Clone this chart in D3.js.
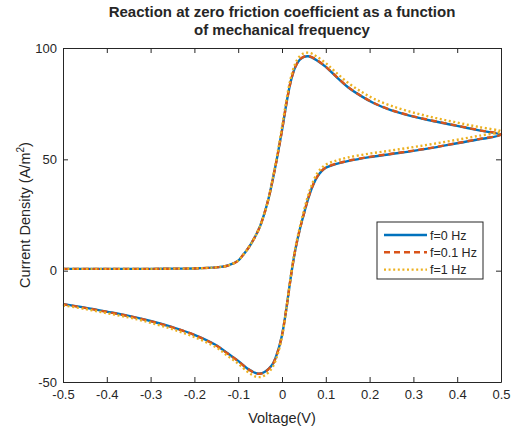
<!DOCTYPE html>
<html>
<head>
<meta charset="utf-8">
<script src="https://cdn.jsdelivr.net/npm/d3@7"></script>
<style>
  html, body { margin: 0; padding: 0; background: #fff; }
  svg { display: block; }
  text { font-family: "Liberation Sans", Arial, sans-serif; fill: #262626; }
</style>
</head>
<body>
<svg id="chart" width="512" height="428"></svg>
<script>
// Cyclic voltammogram: forward scan (-0.5 V -> 0.5 V) followed by reverse scan (0.5 V -> -0.5 V)
const voltage = [
  -0.5, -0.4, -0.3, -0.25, -0.2, -0.15, -0.125, -0.1, -0.09, -0.08, -0.07, -0.06, -0.05, -0.04, -0.03, -0.02, -0.01,
  0, 0.01, 0.02, 0.03, 0.04, 0.05, 0.06, 0.07, 0.08, 0.1, 0.12, 0.15, 0.18, 0.21, 0.25, 0.3, 0.35, 0.4, 0.45, 0.5,
  0.45, 0.4, 0.35, 0.3, 0.25, 0.2, 0.15, 0.12, 0.1, 0.09, 0.08, 0.07, 0.06, 0.05, 0.04, 0.03, 0.02, 0.01,
  0, -0.01, -0.02, -0.03, -0.04, -0.05, -0.06, -0.07, -0.08, -0.1, -0.125, -0.15, -0.2, -0.25, -0.3, -0.35, -0.4, -0.45, -0.5
];

const currentF0 = [
  0.8, 0.8, 0.8, 0.9, 1.0, 1.5, 2.2, 4.5, 6.8, 9.3, 12.3, 15.8, 20.0, 25.8, 33.0, 42.0, 52.0,
  63.0, 75.0, 85.0, 91.3, 94.6, 96.0, 96.3, 95.6, 94.4, 91.5, 87.8, 82.5, 78.5, 75.2, 72.0, 69.2, 67.0, 65.0, 63.0, 61.0,
  59.0, 57.2, 55.4, 53.8, 52.4, 51.0, 49.2, 47.7, 46.2, 44.6, 42.0, 38.0, 32.5, 25.5, 18.0, 9.0, -3.0, -17.0,
  -29.0, -36.5, -41.5, -44.0, -45.5, -46.2, -46.0, -45.0, -43.8, -40.5, -37.0, -33.5, -28.8, -25.4, -22.6, -20.3, -18.4, -16.6, -15.0
];

const currentF01 = [
  0.8, 0.8, 0.8, 0.9, 1.0, 1.5, 2.2, 4.5, 6.8, 9.3, 12.3, 15.8, 20.0, 25.8, 33.0, 42.0, 52.0,
  63.0, 75.0, 85.0, 91.3, 94.7, 96.1, 96.4, 95.7, 94.5, 91.6, 87.9, 82.6, 78.6, 75.3, 72.1, 69.3, 67.1, 65.1, 63.1, 61.1,
  59.1, 57.3, 55.5, 53.9, 52.5, 51.1, 49.3, 47.8, 46.3, 44.7, 42.1, 38.1, 32.6, 25.5, 18.0, 9.0, -3.0, -17.0,
  -29.0, -36.6, -41.6, -44.1, -45.6, -46.3, -46.1, -45.1, -43.9, -40.6, -37.1, -33.6, -28.9, -25.5, -22.7, -20.4, -18.5, -16.7, -15.1
];

const currentF1 = [
  0.8, 0.8, 0.8, 0.9, 1.0, 1.5, 2.2, 4.5, 6.8, 9.3, 12.3, 15.8, 20.0, 25.8, 33.0, 42.5, 53.0,
  64.5, 76.5, 86.5, 92.8, 96.2, 97.6, 97.9, 97.3, 96.1, 93.2, 89.6, 84.5, 80.5, 77.2, 74.0, 71.0, 68.6, 66.5, 64.5, 62.5,
  60.6, 58.8, 57.1, 55.5, 54.0, 52.6, 50.8, 49.2, 47.6, 46.0, 43.6, 39.6, 34.0, 27.0, 19.0, 9.8, -2.5, -17.0,
  -29.8, -37.6, -42.8, -45.5, -47.1, -47.8, -47.6, -46.6, -45.2, -41.8, -38.1, -34.5, -29.8, -26.3, -23.4, -21.0, -19.1, -17.2, -15.6
];

const seriesNames = ["f=0 Hz", "f=0.1 Hz", "f=1 Hz"];
const seriesColors = ["#0072BD", "#D95319", "#EDB120"];
const seriesDash = [null, "6,4", "2,2.6"];

const xTicks = [-0.5, -0.4, -0.3, -0.2, -0.1, 0, 0.1, 0.2, 0.3, 0.4, 0.5];
const yTicks = [-50, 0, 50, 100];

const titleLines = ["Reaction at zero friction coefficient as a function", "of mechanical frequency"];

// Layout of the axes box
const plotLeft = 63, plotRight = 501, plotTop = 48, plotBottom = 382;
const svg = d3.select("#chart");

const x = d3.scaleLinear().domain([-0.5, 0.5]).range([plotLeft, plotRight]);
const y = d3.scaleLinear().domain([-50, 100]).range([plotBottom, plotTop]);

// Curves
const allCurrents = [currentF0, currentF01, currentF1];
const line = d3.line()
  .x(d => x(d[0]))
  .y(d => y(d[1]))
  .curve(d3.curveCatmullRom.alpha(0.5));

svg.append("clipPath").attr("id", "plotClip")
  .append("rect").attr("x", plotLeft - 3).attr("y", plotTop - 3)
  .attr("width", plotRight - plotLeft + 6).attr("height", plotBottom - plotTop + 6);

const plot = svg.append("g").attr("clip-path", "url(#plotClip)");
allCurrents.forEach((cur, k) => {
  const pts = voltage.map((v, i) => [v, cur[i]]);
  plot.append("path")
    .attr("d", line(pts))
    .attr("fill", "none")
    .attr("stroke", seriesColors[k])
    .attr("stroke-width", 2.4)
    .attr("stroke-dasharray", seriesDash[k])
    .attr("stroke-linejoin", "round");
});

// Axes (ticks inward on all four sides)
const axisColor = "#262626";
const tickLen = 5;
const fmtTick = d => (d === 0 ? "0" : d3.format(".1f")(d).replace("\u2212", "-"));

const axBottom = svg.append("g").attr("transform", `translate(0,${plotBottom})`)
  .call(d3.axisBottom(x).tickValues(xTicks).tickSizeInner(-tickLen).tickSizeOuter(0).tickPadding(8)
    .tickFormat(fmtTick));
const axTop = svg.append("g").attr("transform", `translate(0,${plotTop})`)
  .call(d3.axisTop(x).tickValues(xTicks).tickSizeInner(-tickLen).tickSizeOuter(0).tickFormat(""));
const axLeft = svg.append("g").attr("transform", `translate(${plotLeft},0)`)
  .call(d3.axisLeft(y).tickValues(yTicks).tickSizeInner(-tickLen).tickSizeOuter(0).tickPadding(6)
    .tickFormat(d => String(d)));
const axRight = svg.append("g").attr("transform", `translate(${plotRight},0)`)
  .call(d3.axisRight(y).tickValues(yTicks).tickSizeInner(-tickLen).tickSizeOuter(0).tickFormat(""));

[axBottom, axTop, axLeft, axRight].forEach(g => {
  g.select(".domain").attr("stroke", axisColor).attr("stroke-width", 1);
  g.selectAll(".tick line").attr("stroke", axisColor).attr("stroke-width", 1);
  g.selectAll(".tick text").attr("font-family", "Liberation Sans, Arial, sans-serif")
    .attr("font-size", 13).attr("fill", axisColor);
});

// Axis labels
svg.append("text")
  .attr("x", (plotLeft + plotRight) / 2).attr("y", 423)
  .attr("text-anchor", "middle").attr("font-size", 14.5)
  .text("Voltage(V)");

const ylab = svg.append("text")
  .attr("transform", `translate(30,${(plotTop + plotBottom) / 2}) rotate(-90)`)
  .attr("text-anchor", "middle").attr("font-size", 14.5);
ylab.append("tspan").text("Current Density (A/m");
ylab.append("tspan").attr("dy", -6).attr("font-size", 10).text("2");
ylab.append("tspan").attr("dy", 6).text(")");

// Title
svg.append("g").selectAll("text").data(titleLines).join("text")
  .attr("x", (plotLeft + plotRight) / 2)
  .attr("y", (d, i) => 17 + i * 18)
  .attr("text-anchor", "middle")
  .attr("font-size", 15)
  .attr("font-weight", "bold")
  .attr("fill", "#000")
  .text(d => d);

// Legend
const lgX = 377, lgY = 222, lgW = 106, lgH = 57;
const legend = svg.append("g");
legend.append("rect")
  .attr("x", lgX).attr("y", lgY).attr("width", lgW).attr("height", lgH)
  .attr("fill", "#fff").attr("stroke", axisColor).attr("stroke-width", 1);
seriesNames.forEach((name, k) => {
  const cy = lgY + 13 + k * 17.3;
  legend.append("line")
    .attr("x1", lgX + 7).attr("x2", lgX + 50)
    .attr("y1", cy).attr("y2", cy)
    .attr("stroke", seriesColors[k]).attr("stroke-width", 2.4)
    .attr("stroke-dasharray", seriesDash[k]);
  legend.append("text")
    .attr("x", lgX + 53).attr("y", cy + 4.5)
    .attr("font-size", 12.5)
    .attr("fill", "#000")
    .text(name);
});
</script>
</body>
</html>
